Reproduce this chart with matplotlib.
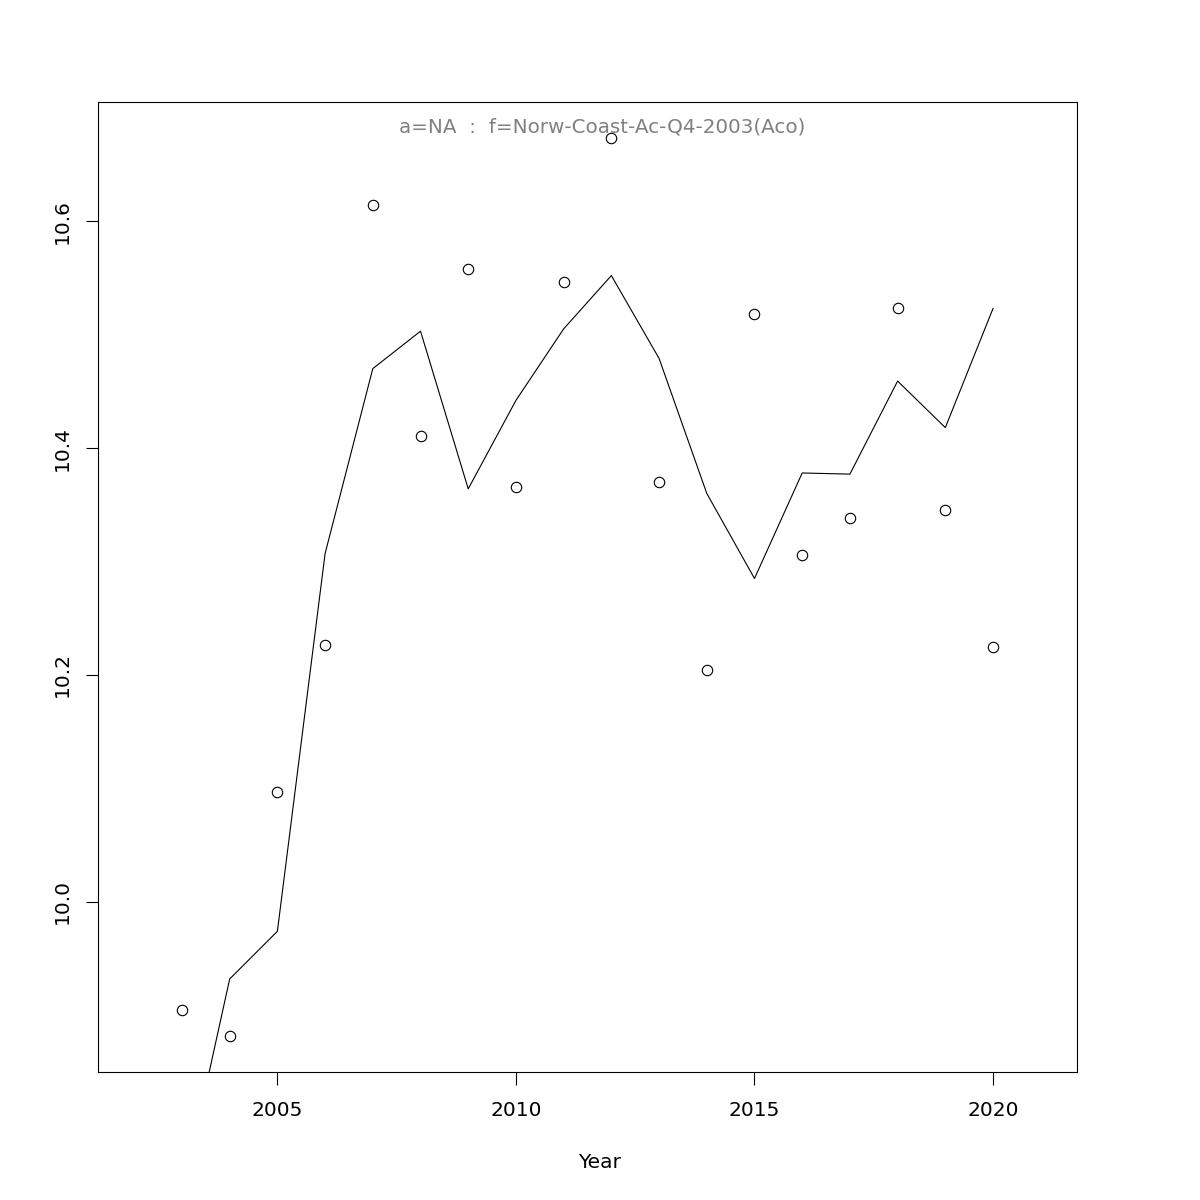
import matplotlib.pyplot as plt

# observed points and fitted line
years = list(range(2003, 2021))
obs = [9.905, 9.882, 10.097, 10.226, 10.614, 10.411, 10.558, 10.366, 10.546,
       10.673, 10.370, 10.204, 10.518, 10.306, 10.338, 10.523, 10.345, 10.225]
fit = [9.741, 9.932, 9.974, 10.307, 10.470, 10.503, 10.364, 10.442, 10.505,
       10.552, 10.479, 10.360, 10.285, 10.378, 10.377, 10.459, 10.418, 10.523]

xticks = [2005, 2010, 2015, 2020]
yticks = [10.0, 10.2, 10.4, 10.6]

fig = plt.figure(figsize=(12, 12), dpi=100)
ax = fig.add_axes([98 / 1200, 1 - 1072 / 1200, (1077 - 98) / 1200, (1072 - 102) / 1200])

ax.plot(years, obs, linestyle='none', marker='o', markersize=7.5,
        markerfacecolor='none', markeredgecolor='black', markeredgewidth=0.8)
ax.plot(years, fit, color='black', linewidth=0.8)

ax.set_xlim(2001.24, 2021.76)
ax.set_ylim(9.850, 10.705)
ax.set_xticks(xticks)
ax.set_xticklabels([str(x) for x in xticks])
ax.set_yticks(yticks)
ax.set_yticklabels(['%.1f' % y for y in yticks], rotation=90, va='center')
ax.tick_params(axis='both', direction='out', length=9, width=0.8, labelsize=14.5)
ax.tick_params(axis='x', pad=12)
ax.tick_params(axis='y', pad=10)
for s in ax.spines.values():
    s.set_linewidth(0.8)

fig.text(600 / 1200, 1 - 1162 / 1200, 'Year', fontsize=14.5, ha='center', va='center')
fig.text(602 / 1200, 1 - 127 / 1200, 'a=NA  :  f=Norw-Coast-Ac-Q4-2003(Aco)',
         color='grey', fontsize=14.3, ha='center', va='center')

fig.savefig('out.png', dpi=100)
